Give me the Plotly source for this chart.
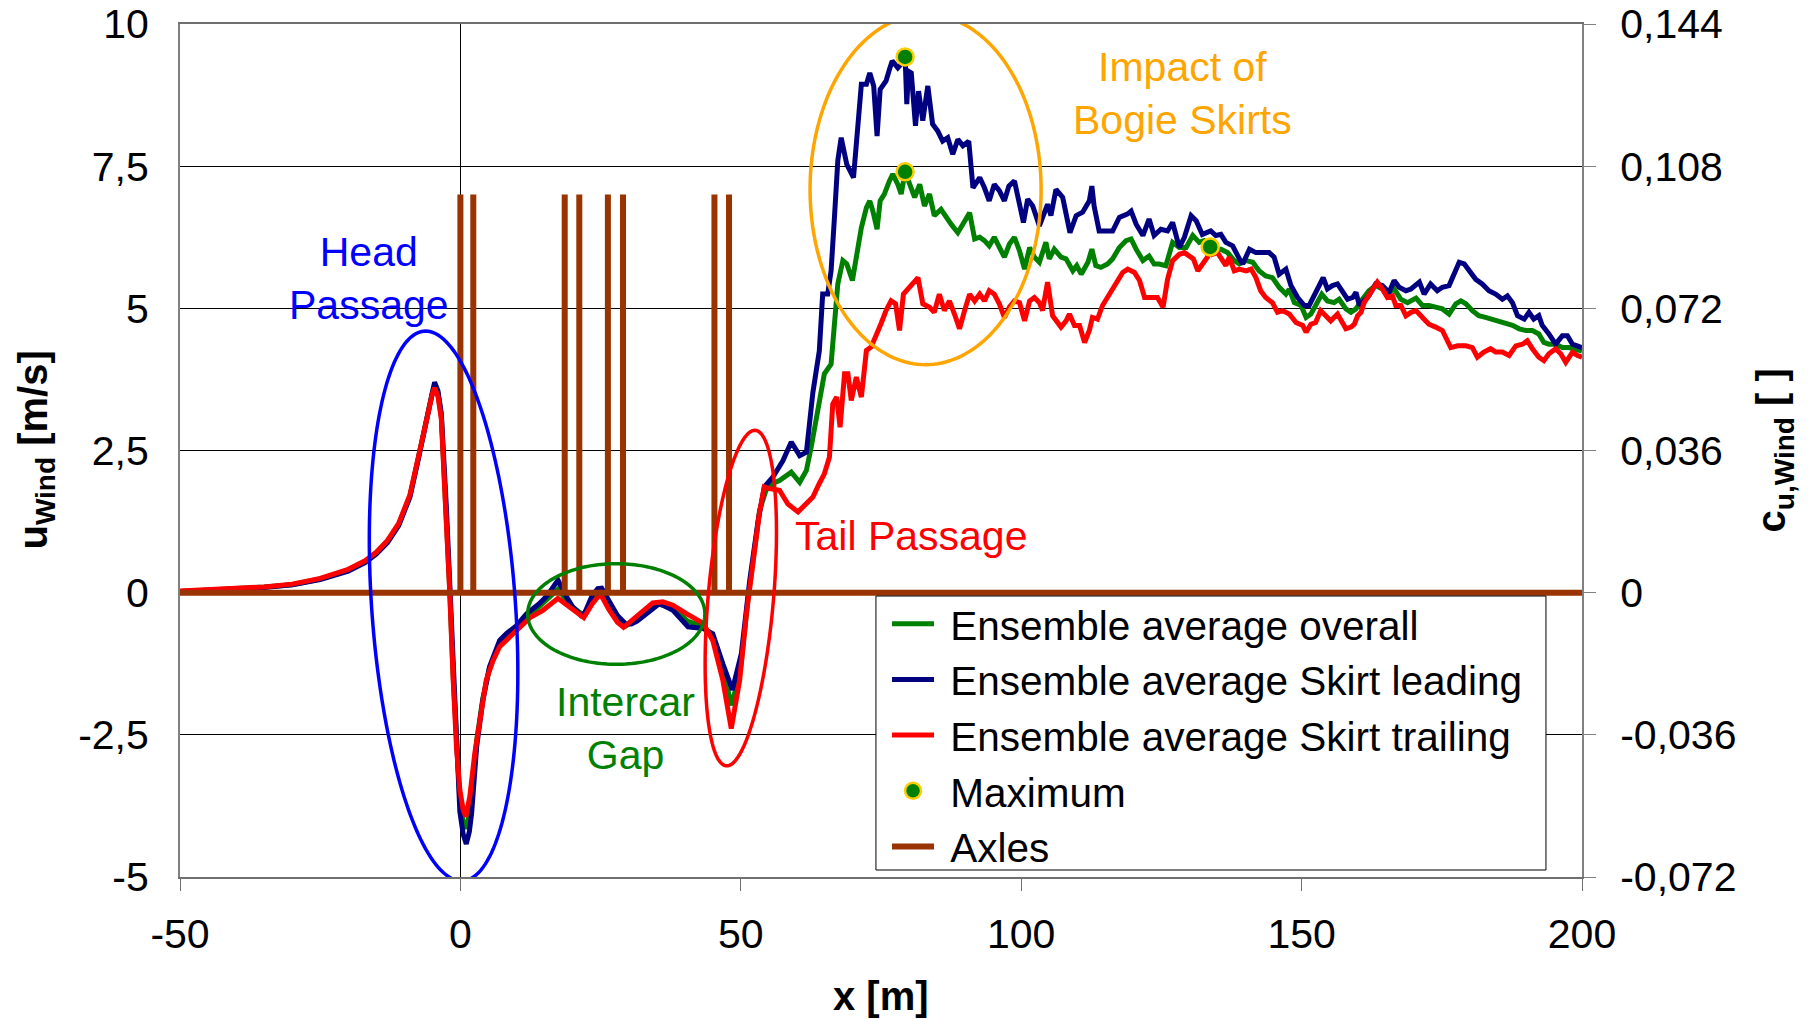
import numpy as np
import plotly.graph_objects as go

# ---------------- data ----------------
lead_x = [-50, -40, -35, -30, -25, -20, -17, -15, -13, -11, -9, -7.5, -6, -5, -4.6, -4, -3.4, -2.5, -1.9, -1.3,
          -0.7, -0.1, 0.5, 1.05, 1.6, 2.0, 2.9, 4.0, 5.2, 7.0, 8.2, 10, 11.8, 14.1, 15.5, 16.5, 17.4, 18.5, 20, 21.5,
          22.2, 23.5, 24.5, 25.2, 26.5, 28, 29.5, 30.5, 31.5, 33.2, 35.5, 37.9, 40.6, 43.3, 45, 46.8, 48.5, 50.1,
          51.6, 53.1, 54.2, 55.7, 57.5, 59, 60.5, 61.7, 62.85, 64, 64.6, 65.5, 66.1, 66.7, 67.3, 67.9, 68.9, 70.1,
          70.9, 71.5, 72.4, 73, 73.7, 74.3, 74.85, 75.9, 76.5, 77, 78, 78.8, 79.3, 79.6, 79.9, 80.4, 81.15, 81.7,
          82.45, 83.35, 84.2, 85.1, 86, 86.9, 87.8, 88.7, 89.6, 90.65, 91.4, 92.6, 93.45, 94.3, 95.2, 96.1, 97,
          97.8, 98.8, 99.7, 100.4, 101.15, 102.05, 103.24, 104.1, 104.7, 105.3, 106.2, 107.4, 108, 108.7, 109.8,
          110.96, 112.15, 112.6, 113.0, 113.9, 115.1, 116.3, 117.5, 119, 119.6, 120.5, 121.7, 122.8, 123.7, 124.9,
          126.1, 127, 128.2, 129.1, 130.3, 131.2, 132.3, 133.8, 134.7, 135.6, 136.5, 137.7, 138.9, 139.5, 140.7,
          141.85, 143, 144.2, 145.1, 146, 147.2, 148.1, 149.3, 150.5, 151.35, 152.2, 153.1, 153.85, 154.6, 155.5,
          156.4, 157.3, 158.2, 159.1, 159.7, 160.3, 161.15, 162, 163.2, 164.4, 165.6, 166.5, 167.4, 168.6, 169.5,
          170.4, 171, 171.85, 173, 174.2, 175.1, 176.3, 177.2, 178.1, 179, 179.9, 181.05, 182.2, 183.4, 184.6,
          185.8, 186.7, 187.6, 188.5, 189.7, 190.55, 191.4, 192.3, 192.9, 194.1, 195.3, 196.5, 197.4, 198.3,
          199.2, 200]
lead_u = [0.02, 0.06, 0.09, 0.14, 0.23, 0.38, 0.53, 0.68, 0.88, 1.18, 1.68, 2.35, 3.1, 3.55, 3.7, 3.55, 3.15, 1.5,
          0.1, -1.4, -2.7, -3.85, -4.25, -4.42, -4.2, -3.88, -2.71, -1.89, -1.3, -0.84, -0.72, -0.58, -0.37, -0.19,
          -0.05, 0.1, 0.22, 0.0, -0.25, -0.4, -0.35, -0.05, 0.07, 0.08, -0.15, -0.4, -0.55, -0.55, -0.5, -0.37,
          -0.19, -0.31, -0.6, -0.63, -0.72, -1.25, -1.71, -1.07, 0.22, 1.27, 1.86, 2.03, 2.32, 2.65, 2.41, 2.47,
          3.52, 4.25, 5.25, 5.25, 5.66, 6.6, 7.6, 8.0, 7.53, 7.3, 8.18, 8.94, 8.94, 9.14, 8.91, 8.03, 8.85, 9.0,
          9.2, 9.35, 9.23, 9.32, 9.42, 8.59, 9.17, 9.14, 8.21, 8.82, 8.3, 8.91, 8.24, 8.12, 7.94, 8.0, 7.71, 7.97,
          7.86, 7.94, 7.12, 7.3, 7.12, 6.89, 7.18, 7.07, 6.89, 7.15, 7.24, 6.77, 6.51, 6.92, 6.8, 6.45, 6.69,
          6.83, 6.63, 7.09, 6.95, 6.69, 6.33, 6.63, 6.69, 6.89, 7.15, 6.8, 6.36, 6.36, 6.36, 6.6, 6.66, 6.71,
          6.48, 6.28, 6.57, 6.28, 6.39, 6.36, 6.51, 6.07, 6.25, 6.63, 6.54, 6.3, 6.36, 6.28, 6.3, 6.16, 6.1, 5.87,
          5.78, 6.04, 5.98, 5.98, 5.98, 5.9, 5.6, 5.69, 5.4, 5.19, 5.05, 5.05, 5.22, 5.37, 5.54, 5.34, 5.4, 5.43,
          5.31, 5.16, 5.19, 5.28, 5.05, 5.13, 5.22, 5.43, 5.4, 5.28, 5.49, 5.37, 5.31, 5.34, 5.4, 5.46, 5.25,
          5.43, 5.31, 5.37, 5.4, 5.63, 5.81, 5.78, 5.66, 5.51, 5.43, 5.31, 5.25, 5.16, 5.22, 5.1, 4.87, 4.81,
          4.93, 4.81, 4.87, 4.7, 4.55, 4.37, 4.52, 4.52, 4.37, 4.35, 4.31]

trail_x = [-50, -40, -35, -30, -25, -20, -17, -15, -13, -11, -9, -7.5, -6, -5, -4.6, -4, -3.4, -2.5, -1.9, -1.3,
           -0.7, -0.1, 0.5, 0.96, 1.67, 2.56, 3.45, 4.6, 5.83, 7.0, 8.8, 11.2, 12.4, 14.7, 16.3, 17.4, 18.5, 20, 22,
           23.5, 24.95, 26.5, 28, 29.1, 30.5, 32, 34.3, 36.1, 37.9, 40.3, 43.3, 45, 46.8, 48.3, 49.8, 51, 52.2,
           53.3, 54.2, 55.1, 56.9, 58.4, 60.2, 61.7, 62.85, 64, 64.9, 65.8, 66.4, 67.1, 67.7, 68.5, 69.1, 69.7,
           70.6, 71.5, 72.4, 73.25, 74.1, 75, 75.9, 76.8, 77.6, 78.3, 79, 80.1, 80.8, 81.6, 82.45, 83.65, 84.5,
           85.4, 86.3, 87.2, 88.1, 89, 89.9, 90.8, 91.7, 92.6, 93.45, 94.3, 95.2, 96.1, 97, 97.9, 98.8, 99.7,
           100.6, 101.5, 102.35, 103.24, 103.8, 104.7, 105.6, 106.5, 107.1, 108, 108.6, 109.5, 110.4, 111.3,
           112.15, 112.7, 113.6, 114.5, 115.7, 116.9, 118.1, 119, 120.2, 121.1, 122, 123.1, 124.3, 125.3, 126.1,
           127, 128.2, 129.1, 130, 130.7, 131.5, 132.3, 133.2, 133.7, 134.1, 135, 135.9, 136.5, 137.1, 138,
           138.9, 140.1, 141, 141.85, 142.7, 143.6, 144.8, 145.7, 146.6, 147.8, 149, 150.2, 150.8, 151.65, 152.5,
           153.4, 154.6, 155.2, 156.4, 157.3, 157.9, 158.8, 159.4, 160, 160.6, 161.15, 162, 162.9, 163.5, 164.4,
           165.3, 166.2, 166.8, 167.7, 168.6, 169.5, 170.4, 171.55, 172.7, 173.9, 175.1, 176, 176.6, 177.8,
           179.3, 180.45, 181.35, 182.5, 183.7, 184.6, 185.8, 187, 188.2, 189.4, 190.25, 191.15, 192.3, 193.2,
           194.1, 195.3, 196.2, 197.1, 198.3, 199.2, 200]
trail_u = [0.03, 0.07, 0.1, 0.15, 0.25, 0.41, 0.56, 0.71, 0.92, 1.22, 1.72, 2.38, 3.1, 3.5, 3.6, 3.45, 3.05, 1.4,
           0.0, -1.5, -2.71, -3.47, -3.82, -3.94, -3.59, -2.83, -2.24, -1.54, -1.19, -0.95, -0.78, -0.57, -0.44,
           -0.31, -0.18, -0.1, -0.18, -0.3, -0.44, -0.2, -0.02, -0.3, -0.52, -0.61, -0.5, -0.37, -0.18, -0.16,
           -0.22, -0.37, -0.54, -0.84, -1.54, -2.39, -1.54, -0.37, 0.57, 1.39, 1.86, 1.83, 1.8, 1.56, 1.42, 1.56,
           1.68, 1.92, 2.09, 2.38, 3.32, 3.44, 2.91, 3.85, 3.85, 3.38, 3.79, 3.44, 4.26, 4.32, 4.55, 4.73, 4.96,
           5.13, 5.08, 4.61, 5.25, 5.37, 5.43, 5.54, 5.08, 5.02, 4.93, 5.25, 4.96, 5.13, 4.9, 4.64, 4.96, 5.25,
           5.13, 5.25, 5.13, 5.31, 5.25, 5.08, 4.84, 5.02, 5.13, 5.1, 4.78, 5.13, 5.19, 5.1, 4.96, 5.46, 4.87,
           4.75, 4.67, 4.78, 4.9, 4.7, 4.7, 4.4, 4.61, 4.84, 4.81, 5.05, 5.25, 5.43, 5.63, 5.69, 5.63, 5.49, 5.19,
           5.19, 5.19, 5.02, 5.51, 5.84, 5.95, 5.98, 5.92, 5.87, 5.66, 5.78, 5.9, 6.08, 5.95, 5.98, 5.84, 5.75,
           5.9, 5.66, 5.69, 5.66, 5.69, 5.54, 5.31, 5.19, 5.1, 4.93, 4.96, 4.9, 4.75, 4.7, 4.58, 4.72, 4.75, 4.96,
           4.84, 4.78, 4.9, 4.75, 4.64, 4.67, 4.72, 4.87, 4.93, 5.1, 5.22, 5.37, 5.46, 5.34, 5.19, 5.22, 5.05,
           5.05, 4.87, 4.93, 4.96, 4.84, 4.72, 4.67, 4.61, 4.43, 4.31, 4.34, 4.34, 4.31, 4.14, 4.23, 4.29, 4.23,
           4.23, 4.17, 4.34, 4.37, 4.43, 4.29, 4.14, 4.08, 4.2, 4.29, 4.2, 4.05, 4.23, 4.17, 4.14]

overall_x = [-50, -40, -35, -30, -25, -20, -17, -15, -13, -11, -9, -7.5, -6, -5, -4.6, -4, -3.4, -2.5, -1.9, -1.3,
             -0.7, -0.1, 0.5, 1.0, 1.6, 2.3, 2.9, 4.0, 5.2, 7.0, 8.5, 10, 11.8, 14.1, 16, 17.4, 18.5, 20, 22, 23.5,
             25.0, 26.5, 28, 29.6, 31, 33, 35, 37.9, 40.5, 43.3, 45, 46.8, 48.4, 50, 51.3, 52.7, 53.35, 54.5, 55.7,
             56.9, 59, 60.5, 61.7, 62.55, 63.75, 64.9, 66.1, 66.7, 67.3, 68.2, 68.9, 69.9, 70.6, 71.5, 72.4, 73,
             73.55, 74.3, 74.85, 75.6, 76.5, 77.1, 78, 78.6, 79.3, 80.1, 81, 81.9, 82.75, 83.65, 84.5, 85.7, 86.6,
             87.5, 88.7, 89.9, 90.8, 91.7, 92.6, 93.45, 94.3, 95.2, 96.1, 97, 97.9, 98.8, 99.7, 100.6, 101.5,
             102.35, 103.24, 104.4, 105, 105.9, 107.1, 108, 109.2, 109.9, 110.7, 111.9, 112.6, 113.3, 114.2,
             115.4, 116.3, 117.5, 118.7, 119.6, 120.5, 121.7, 122.8, 123.7, 124.6, 125.8, 127, 128.2, 129.4,
             130.6, 131.75, 132.6, 133.65, 134.7, 135.6, 136.8, 138, 138.9, 140.1, 141.3, 142.4, 143.6, 144.8,
             146, 147.2, 147.8, 148.7, 149.9, 150.8, 151.65, 152.5, 153.6, 154.6, 155.8, 156.7, 157.9, 158.8,
             159.7, 160.85, 162, 163.2, 164.4, 165.6, 166.5, 167.7, 168.9, 170.4, 171.55, 172.7, 173.9, 175.1,
             176.3, 177.5, 178.4, 179.3, 180.45, 181.6, 182.8, 184, 185.2, 186.4, 187.6, 188.8, 190, 191.15,
             192.3, 193.2, 194.1, 195.3, 196.5, 197.7, 198.9, 200]
overall_u = [0.02, 0.06, 0.1, 0.14, 0.24, 0.4, 0.55, 0.7, 0.9, 1.2, 1.7, 2.37, 3.1, 3.52, 3.65, 3.5, 3.1, 1.45,
             0.05, -1.45, -2.7, -3.65, -4.05, -4.15, -3.9, -3.2, -2.6, -1.86, -1.32, -0.9, -0.75, -0.62, -0.42,
             -0.24, -0.08, 0.06, -0.08, -0.25, -0.4, -0.12, 0.03, -0.22, -0.46, -0.58, -0.48, -0.35, -0.19, -0.27,
             -0.5, -0.6, -0.78, -1.4, -1.98, -1.3, -0.1, 0.95, 1.45, 1.8, 1.92, 1.97, 2.12, 1.94, 2.15, 2.56, 3.26,
             3.85, 4.02, 4.84, 5.43, 5.84, 5.78, 5.49, 5.9, 6.42, 6.77, 6.89, 6.71, 6.39, 6.89, 7.01, 7.24, 7.36,
             7.18, 7.01, 7.4, 7.18, 6.95, 7.18, 6.8, 7.01, 6.63, 6.74, 6.6, 6.48, 6.33, 6.51, 6.68, 6.22, 6.25,
             6.19, 6.1, 6.25, 6.07, 5.9, 6.13, 6.25, 6.01, 5.69, 6.07, 5.9, 5.81, 6.16, 5.87, 6.04, 5.9, 5.87, 5.66,
             5.75, 5.6, 5.81, 6.04, 5.75, 5.72, 5.78, 5.87, 6.07, 6.19, 6.22, 6.04, 5.84, 5.92, 5.78, 5.78, 5.75,
             6.16, 6.07, 6.07, 6.28, 6.16, 6.19, 6.08, 6.01, 6.04, 5.98, 5.84, 5.78, 5.84, 5.81, 5.66, 5.57, 5.54,
             5.37, 5.25, 5.34, 5.1, 5.05, 4.84, 4.9, 5.05, 5.25, 5.13, 5.1, 5.16, 4.99, 4.93, 4.99, 5.16, 5.31,
             5.4, 5.34, 5.28, 5.34, 5.16, 5.1, 5.18, 5.05, 5.05, 5.02, 4.99, 4.9, 5.08, 5.13, 5.08, 4.96, 4.87,
             4.84, 4.81, 4.78, 4.75, 4.7, 4.64, 4.61, 4.61, 4.55, 4.4, 4.37, 4.37, 4.31, 4.31, 4.29, 4.25]

axle_pos = [0, 2.3, 18.6, 21.2, 26.3, 29.0, 45.3, 47.9]
axle_height = 7.0

x_range = [-50, 200]
u_range = [-5, 10]
x_ticks = [-50, 0, 50, 100, 150, 200]
u_ticks = [-5, -2.5, 0, 2.5, 5, 7.5, 10]
u_ticklabels = ["-5", "-2,5", "0", "2,5", "5", "7,5", "10"]
c_factor = 0.0144
c_ticklabels = ["-0,072", "-0,036", "0", "0,036", "0,072", "0,108", "0,144"]

# annotation ellipses: centre, horizontal half-width, conjugate semi-diameter to top point
ell_cx = [-3.0, 27.8, 50.0, 82.95]
ell_cy = [-0.235, -0.375, -0.095, 7.09]
ell_a = [12.85, 15.8, 5.85, 20.6]
ell_bx = [-3.2, 0.0, 2.5, 0.0]
ell_by = [4.835, 0.885, 2.95, 3.08]
ell_col = ["#0000FF", "#008000", "#FF0000", "#FFA500"]

FONT = "Liberation Sans, Arial, sans-serif"
SP = "\u00a0"  # small gap between legend symbol and text

# ---------------- figure ----------------
fig = go.Figure()

fig.add_trace(go.Scatter(x=overall_x, y=overall_u, mode="lines", name=SP + "Ensemble average overall",
                         line=dict(color="#008000", width=5)))
fig.add_trace(go.Scatter(x=lead_x, y=lead_u, mode="lines", name=SP + "Ensemble average Skirt leading",
                         line=dict(color="#000080", width=5)))
fig.add_trace(go.Scatter(x=trail_x, y=trail_u, mode="lines", name=SP + "Ensemble average Skirt trailing",
                         line=dict(color="#FF0000", width=5)))

# maxima taken from the series
mx, my = [], []
for xs, us in [(lead_x, lead_u), (overall_x, overall_u), (trail_x, trail_u)]:
    i = int(np.argmax(us))
    mx.append(xs[i]); my.append(us[i])
fig.add_trace(go.Scatter(x=mx, y=my, mode="markers", name=SP + "Maximum",
                         marker=dict(color="#008000", size=17, line=dict(color="#FFCC00", width=2.5))))

# axles: zero line with spikes at axle positions
ax_x, ax_y = [x_range[0]], [0]
for a in axle_pos:
    ax_x += [a, a, a]
    ax_y += [0, axle_height, 0]
ax_x.append(x_range[1]); ax_y.append(0)
fig.add_trace(go.Scatter(x=ax_x, y=ax_y, mode="lines", name=SP + "Axles",
                         line=dict(color="#993300", width=6)))

# helper trace for the right axis
fig.add_trace(go.Scatter(x=[x_range[0]], y=[u_range[0] * c_factor], yaxis="y2", mode="markers",
                         marker=dict(opacity=0), showlegend=False, hoverinfo="skip"))

# ellipses
t = np.linspace(0, 2 * np.pi, 181)
for cx, cy, a, bx, by, col in zip(ell_cx, ell_cy, ell_a, ell_bx, ell_by, ell_col):
    xs = cx + a * np.cos(t) + bx * np.sin(t)
    ys = cy + by * np.sin(t)
    path = "M " + " L ".join(f"{x:.3f},{y:.4f}" for x, y in zip(xs, ys)) + " Z"
    fig.add_shape(type="path", path=path, xref="x", yref="y", line=dict(color=col, width=3.5))

# legend box
fig.add_shape(type="rect", xref="paper", yref="paper", x0=0.4964, x1=0.9743, y0=0.0082, y1=0.3294,
              line=dict(color="black", width=1), fillcolor="white", layer="above")

# text annotations
labels = [("Head<br>Passage", -16.3, 5.53, "#0000FF"),
          ("Intercar<br>Gap", 29.4, -2.385, "#008000"),
          ("Tail Passage", 80.3, 1.0, "#FF0000"),
          ("Impact of<br>Bogie Skirts", 128.7, 8.77, "#FFA500")]
for txt, x, y, col in labels:
    fig.add_annotation(x=x, y=y, xref="x", yref="y", text=txt, showarrow=False,
                       xanchor="center", yanchor="middle",
                       font=dict(family=FONT, size=41, color=col), align="center")

# axis titles
fig.add_annotation(x=-0.1034, y=0.5, xref="paper", yref="paper", textangle=-90, showarrow=False,
                   xanchor="center", yanchor="middle",
                   text="<b>u<sub>Wind</sub> [m/s]</b>", font=dict(family=FONT, size=40, color="black"))
fig.add_annotation(x=1.1369, y=0.5, xref="paper", yref="paper", textangle=-90, showarrow=False,
                   xanchor="center", yanchor="middle",
                   text="<b>c<sub>u,Wind</sub> [ ]</b>", font=dict(family=FONT, size=40, color="black"))
fig.add_annotation(x=0.5, y=-0.1395, xref="paper", yref="paper", showarrow=False,
                   xanchor="center", yanchor="middle",
                   text="<b>x [m]</b>", font=dict(family=FONT, size=40, color="black"))

fig.update_layout(
    width=1812, height=1019,
    margin=dict(l=180, r=230, t=24, b=142, autoexpand=False),
    paper_bgcolor="white", plot_bgcolor="white",
    font=dict(family=FONT, size=41, color="black"),
    showlegend=True,
    legend=dict(x=0.5043, y=0.3353, xanchor="left", yanchor="top", bgcolor="rgba(0,0,0,0)",
                borderwidth=0, font=dict(family=FONT, size=40.5, color="black"),
                itemwidth=42),
    xaxis=dict(range=x_range, tickvals=x_ticks, ticktext=[str(v) for v in x_ticks], showgrid=False,
               zeroline=True, zerolinecolor="black", zerolinewidth=1, automargin=False,
               showline=True, linecolor="#707070", linewidth=2, mirror=True,
               ticks="outside", ticklen=12, tickcolor="#707070", tickwidth=1, ticklabelstandoff=8),
    yaxis=dict(range=u_range, tickvals=u_ticks, ticktext=u_ticklabels, showgrid=True, gridcolor="black",
               gridwidth=1, zeroline=False, showline=True, linecolor="#808080", linewidth=2,
               ticks="", ticklabelstandoff=21, automargin=False),
    yaxis2=dict(range=[u_range[0] * c_factor, u_range[1] * c_factor], overlaying="y", side="right",
                tickvals=[v * c_factor for v in u_ticks], ticktext=c_ticklabels, showgrid=False,
                zeroline=False, showline=True, linecolor="#808080", linewidth=2, automargin=False,
                ticks="outside", ticklen=12, tickcolor="#808080", tickwidth=1, ticklabelstandoff=16),
)

fig.write_html("out.html")
